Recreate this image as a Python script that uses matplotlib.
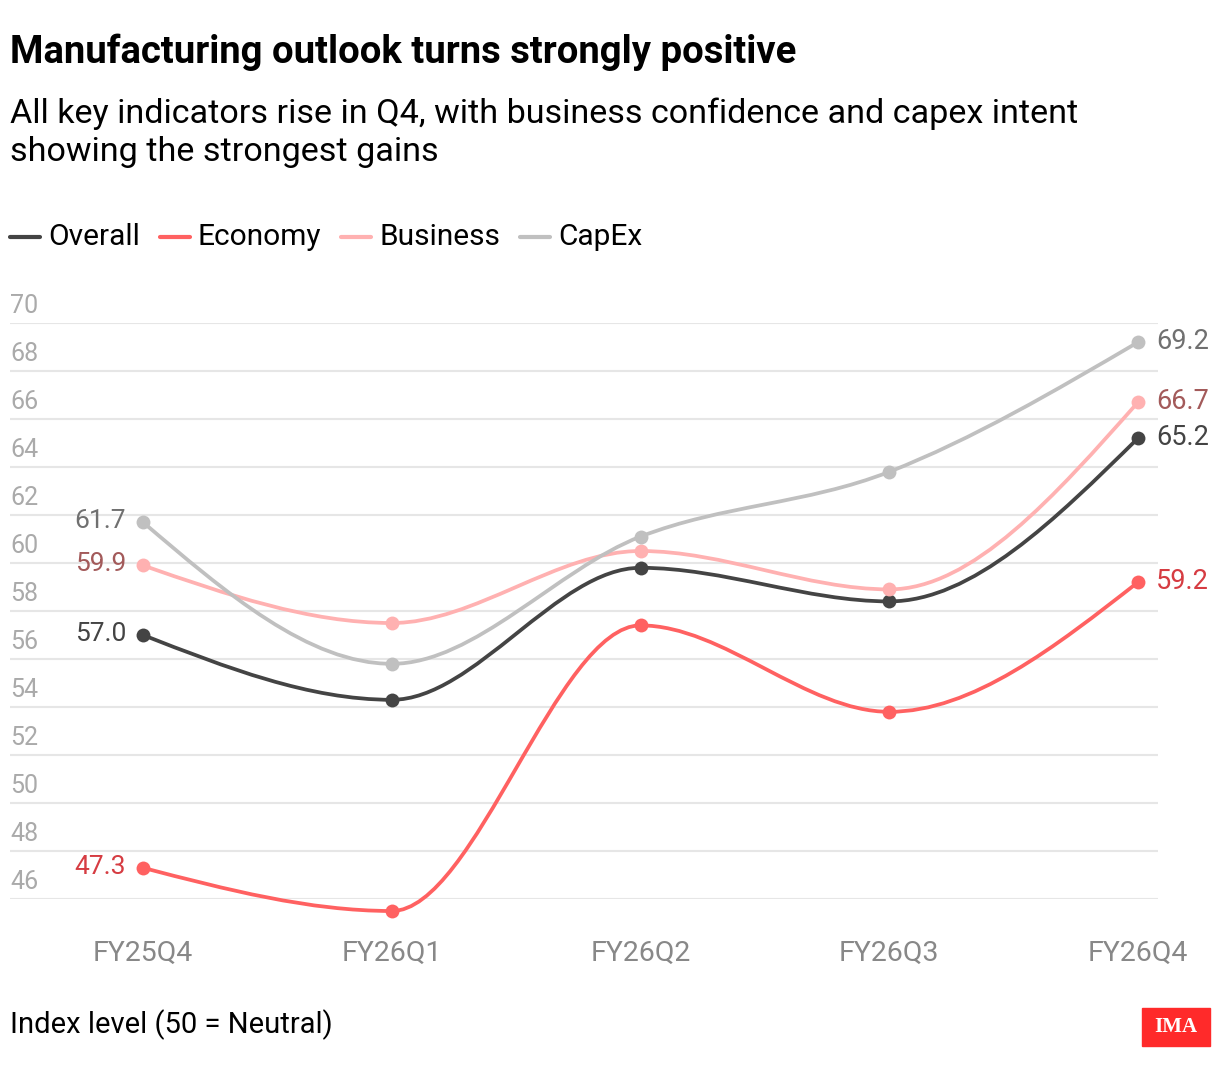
import matplotlib.pyplot as plt
import numpy as np
from matplotlib.path import Path
from matplotlib.patches import PathPatch, Rectangle

plt.rcParams['font.family'] = ['Roboto', 'DejaVu Sans']

# data
quarters = ["FY25Q4", "FY26Q1", "FY26Q2", "FY26Q3", "FY26Q4"]
overall = [57.0, 54.3, 59.8, 58.4, 65.2]
economy = [47.3, 45.5, 57.4, 53.8, 59.2]
business = [59.9, 57.5, 60.5, 58.9, 66.7]
capex = [61.7, 55.8, 61.1, 63.8, 69.2]
yticks = [46, 48, 50, 52, 54, 56, 58, 60, 62, 64, 66, 68, 70]

series = [
    ("Overall", overall, "#444444", "#444444"),
    ("Economy", economy, "#ff6161", "#d63c42"),
    ("Business", business, "#ffb1b1", "#a35a5a"),
    ("CapEx", capex, "#c0c0c0", "#707070"),
]


def monotone_path(xs, ys):
    # monotone cubic (like d3.curveMonotoneX) as bezier segments
    xs = np.asarray(xs, float)
    ys = np.asarray(ys, float)
    n = len(xs)
    h = np.diff(xs)
    s = np.diff(ys) / h
    t = np.zeros(n)
    for i in range(1, n - 1):
        if s[i - 1] * s[i] <= 0:
            t[i] = 0
        else:
            p = (s[i - 1] * h[i] + s[i] * h[i - 1]) / (h[i - 1] + h[i])
            t[i] = np.sign(s[i - 1]) * min(abs(s[i - 1]), abs(s[i]), 0.5 * abs(p)) * 2
    t[0] = (3 * s[0] - t[1]) / 2
    t[-1] = (3 * s[-1] - t[-2]) / 2
    verts = [(xs[0], ys[0])]
    codes = [Path.MOVETO]
    for i in range(n - 1):
        dx = h[i] / 3
        verts += [(xs[i] + dx, ys[i] + dx * t[i]),
                  (xs[i + 1] - dx, ys[i + 1] - dx * t[i + 1]),
                  (xs[i + 1], ys[i + 1])]
        codes += [Path.CURVE4] * 3
    return Path(verts, codes)


W, H = 1220, 1080
fig = plt.figure(figsize=(W / 100, H / 100), dpi=100)

# axes in pixel coordinates: left 10, right 1158, top 323 (70), bottom 899 (46)
left, right, top, bottom = 10, 1158, 323, 899
ax = fig.add_axes([left / W, 1 - bottom / H, (right - left) / W, (bottom - top) / H])
x0, x4 = 143, 1138
step = (x4 - x0) / 4
ax.set_xlim((left - x0) / step, (right - x0) / step)
ax.set_ylim(46, 70)
ax.axis('off')

for v in yticks:
    ax.axhline(v, color="#e6e6e6", lw=1.5, zorder=0)
    ax.annotate(str(v), (0, v), xycoords=('axes fraction', 'data'),
                xytext=(0, 5), textcoords='offset pixels',
                ha='left', va='bottom', fontsize=18, color="#aaaaaa")

xs = np.arange(len(quarters))
for name, vals, col, lcol in series:
    ax.add_patch(PathPatch(monotone_path(xs, vals), facecolor='none',
                           edgecolor=col, lw=2.7, clip_on=False, zorder=2))
    ax.scatter(xs, vals, s=100, color=col, zorder=3, clip_on=False, linewidths=0)
    ax.annotate(f"{vals[0]:.1f}", (xs[0], vals[0]), xytext=(-17, 1),
                textcoords='offset pixels', ha='right', va='center',
                fontsize=19, color=lcol)
    ax.annotate(f"{vals[-1]:.1f}", (xs[-1], vals[-1]), xytext=(18, 1),
                textcoords='offset pixels', ha='left', va='center',
                fontsize=19.5, color=lcol)

for i, q in enumerate(quarters):
    ax.annotate(q, (i, 0), xycoords=('data', 'axes fraction'),
                xytext=(0, -54), textcoords='offset pixels',
                ha='center', va='center', fontsize=20.5, color="#888888")

# titles
fig.text(10 / W, 1 - 52 / H, "Manufacturing outlook turns strongly positive",
         fontsize=27.5, fontweight='bold', ha='left', va='center')
fig.text(10 / W, 1 - 114 / H, "All key indicators rise in Q4, with business confidence and capex intent",
         fontsize=24.6, ha='left', va='center')
fig.text(10 / W, 1 - 152 / H, "showing the strongest gains",
         fontsize=24.6, ha='left', va='center')

# legend
lx = 10
for name, vals, col, lcol in series:
    fig.add_artist(plt.Line2D([lx / W, (lx + 30) / W], [1 - 237 / H] * 2,
                              color=col, lw=3, solid_capstyle='round'))
    t = fig.text((lx + 38) / W, 1 - 237 / H, name, fontsize=21.5,
                 ha='left', va='center')
    fig.canvas.draw()
    bb = t.get_window_extent()
    lx = bb.x1 + 20

# footer
fig.text(10 / W, 1 - 1025 / H, "Index level (50 = Neutral)", fontsize=21,
         ha='left', va='center')
fig.add_artist(Rectangle((1142 / W, 1 - 1046 / H), 68 / W, 38 / H,
                         transform=fig.transFigure, color="#ff2a2a"))
fig.text(1176 / W, 1 - 1027 / H, "IMA", fontsize=15, fontweight='bold',
         family='Liberation Serif', color='white', ha='center', va='center')

fig.savefig("out.png", dpi=100)
